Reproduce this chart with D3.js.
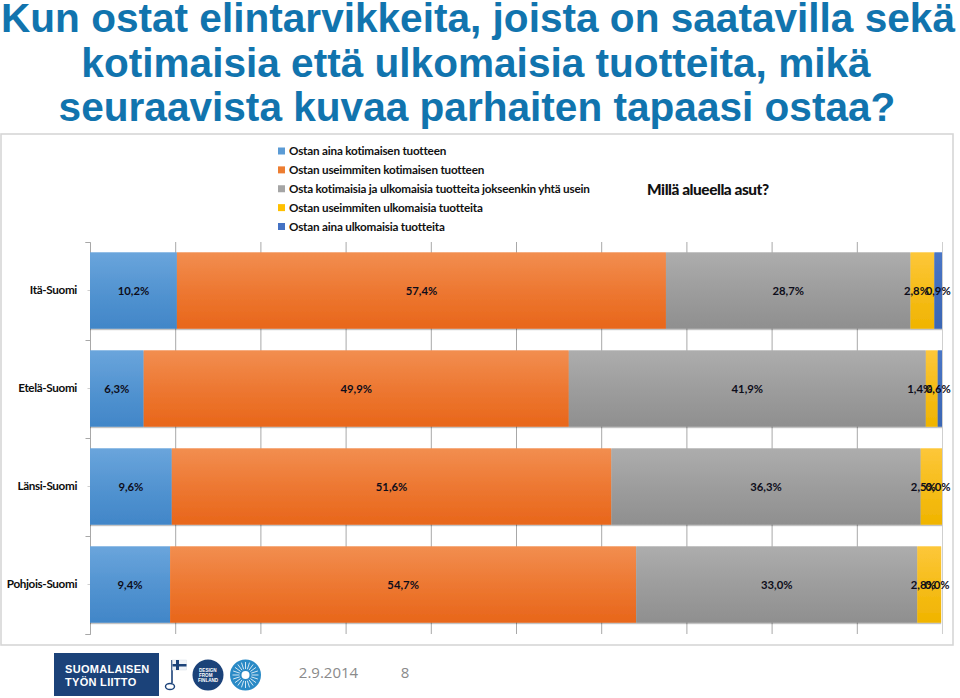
<!DOCTYPE html>
<html><head><meta charset="utf-8">
<script src="https://cdnjs.cloudflare.com/ajax/libs/d3/7.8.5/d3.min.js"></script>
<style>html,body{margin:0;padding:0;background:#fff}svg{display:block}</style></head>
<body><svg id="c" width="960" height="698"></svg>
<script>
const titleLines=["Kun ostat elintarvikkeita, joista on saatavilla sekä","kotimaisia että ulkomaisia tuotteita, mikä","seuraavista kuvaa parhaiten tapaasi ostaa?"];
const regions=["Itä-Suomi","Etelä-Suomi","Länsi-Suomi","Pohjois-Suomi"];
const seriesNames=["Ostan aina kotimaisen tuotteen","Ostan useimmiten kotimaisen tuotteen","Osta kotimaisia ja ulkomaisia tuotteita jokseenkin yhtä usein","Ostan useimmiten ulkomaisia tuotteita","Ostan aina ulkomaisia tuotteita"];
const aina_koti=[10.2,6.3,9.6,9.4];
const useim_koti=[57.4,49.9,51.6,54.7];
const molemmat=[28.7,41.9,36.3,33.0];
const useim_ulko=[2.8,1.4,2.5,2.8];
const aina_ulko=[0.9,0.6,0.0,0.0];
const seriesValues=[aina_koti,useim_koti,molemmat,useim_ulko,aina_ulko];
const colTop=["#6aa5dc","#f28e50","#adadad","#fdc73a","#4a76c6"];
const colBot=["#4186c8","#e8661a","#8f8f8f","#f0b400","#3a66b4"];
const legendCol=["#5b9bd5","#ed7d31","#a5a5a5","#ffc000","#4472c4"];
const xTicks=[0,10,20,30,40,50,60,70,80,90,100];
const footerDate="2.9.2014", footerPage="8", chartTitle="Millä alueella asut?";
const font="Lato, 'Open Sans', sans-serif";

const svg=d3.select("#c");
const defs=svg.append("defs");
colTop.forEach((c,i)=>{const g=defs.append("linearGradient").attr("id","g"+i).attr("x1",0).attr("x2",0).attr("y1",0).attr("y2",1);
 g.append("stop").attr("offset","0%").attr("stop-color",c);
 g.append("stop").attr("offset","50%").attr("stop-color",d3.interpolateRgb(c,colBot[i])(0.55));
 g.append("stop").attr("offset","100%").attr("stop-color",colBot[i]);});
const sh=defs.append("filter").attr("id","sh").attr("x","-2%").attr("y","-5%").attr("width","104%").attr("height","112%");
sh.append("feDropShadow").attr("dx",0).attr("dy",1.2).attr("stdDeviation",0.4).attr("flood-color","#000").attr("flood-opacity",0.3);

// slide title
svg.append("g").selectAll("text").data(titleLines).join("text")
 .attr("x",(d,i)=>[478,476,477][i]).attr("y",(d,i)=>[32,77,121][i])
 .attr("text-anchor","middle").attr("font-family","'Liberation Sans',Arial,sans-serif")
 .attr("font-weight","bold").attr("font-size",40.6).attr("fill","#1174ae").text(d=>d);

// chart frame
svg.append("rect").attr("x",1).attr("y",134).attr("width",952).attr("height",511).attr("fill","#fff").attr("stroke","#d6d6d6").attr("stroke-width",1.6);

const x=d3.scaleLinear().domain([0,100]).range([90,942]);
const y=d3.scaleBand().domain(regions).range([241.5,633.5]).paddingInner(0.22).paddingOuter(0.11);

// gridlines
svg.append("g").selectAll("line").data(xTicks.slice(1)).join("line")
 .attr("x1",d=>x(d)+.5).attr("x2",d=>x(d)+.5).attr("y1",242).attr("y2",634)
 .attr("stroke",d=>d==100?"#cfcfcf":"#a8a8a8").attr("stroke-width",1);

// category axis
const ax=svg.append("g").attr("transform","translate(90.5,0)").call(d3.axisLeft(y).tickSize(5).tickPadding(13.5));
ax.selectAll("path,line").attr("stroke","#a8a8a8");
ax.select("path").attr("d","M-5,242.5H0V634.5H-5");
ax.selectAll(".tick line").remove();
ax.append("g").selectAll("line").data(d3.range(5)).join("line").attr("x1",-5).attr("x2",0)
 .attr("y1",i=>242.5+i*392/4).attr("y2",i=>242.5+i*392/4).attr("stroke","#a8a8a8");
ax.selectAll(".tick").append("line").attr("x1",-3).attr("x2",0).attr("stroke","#cfcfcf");
ax.selectAll(".tick text").attr("x",-13.5).attr("font-family",font).attr("font-size",11.7).attr("font-weight",700).attr("fill","#0d0d0d").attr("letter-spacing",-0.35);

// stacked bars
const rows=regions.map((r,i)=>{const o={region:r};seriesNames.forEach((s,j)=>o[s]=seriesValues[j][i]);return o;});
const stacked=d3.stack().keys(seriesNames)(rows);
const sg=svg.append("g").selectAll("g").data(stacked).join("g").attr("fill",(d,i)=>`url(#g${i})`).attr("filter","url(#sh)");
sg.selectAll("rect").data(d=>d).join("rect")
 .attr("x",d=>x(d[0])).attr("width",d=>Math.max(0,Math.min(x(d[1]),x(100))-x(d[0])))
 .attr("y",d=>y(d.data.region)).attr("height",y.bandwidth());

// value labels (the small trailing labels sit slightly left of their segments)
const labelShiftPenult=[-6,-12,-8,-6], labelShiftLast=[0,-2,-4,-4];
const lg=svg.append("g");
stacked.forEach((s,si)=>{lg.selectAll(null).data(s).join("text")
 .attr("x",(d,i)=>x((d[0]+d[1])/2)+(si==3?labelShiftPenult[i]:si==4?labelShiftLast[i]:0))
 .attr("y",d=>y(d.data.region)+y.bandwidth()/2+4)
 .attr("text-anchor","middle").attr("font-family",font).attr("font-size",11.3).attr("font-weight",700).attr("fill","#0d0d1a")
 .text(d=>(d[1]-d[0]).toFixed(1).replace(".",",")+"%");});

// legend
const ly=d3.scalePoint().domain(seriesNames).range([151,226.5]);
const lgd=svg.append("g").selectAll("g").data(seriesNames).join("g").attr("transform",d=>`translate(278,${ly(d)})`);
lgd.append("rect").attr("x",0).attr("y",-3.5).attr("width",7).attr("height",7).attr("fill",(d,i)=>legendCol[i]);
lgd.append("text").attr("x",11).attr("y",4).attr("font-family",font).attr("font-size",11.7).attr("font-weight",700).attr("fill","#111").attr("letter-spacing",-0.2).text(d=>d);
svg.append("text").attr("x",647).attr("y",195).attr("font-family",font).attr("font-size",15.4).attr("font-weight",900).attr("fill","#111").attr("letter-spacing",-0.45).text(chartTitle);

// footer
svg.append("text").attr("x",328.5).attr("y",678).attr("text-anchor","middle").attr("font-family","'Open Sans',sans-serif").attr("font-size",15).attr("fill","#8a8a8a").text(footerDate);
svg.append("text").attr("x",405).attr("y",678).attr("text-anchor","middle").attr("font-family","'Open Sans',sans-serif").attr("font-size",15).attr("fill","#8a8a8a").text(footerPage);

// logos
const lo=svg.append("g");
lo.append("rect").attr("x",54).attr("y",653).attr("width",105).attr("height",43).attr("fill","#1b4279");
[["SUOMALAISEN",672.5],["TYÖN LIITTO",686]].forEach(([t,yy])=>lo.append("text").attr("x",65).attr("y",yy).attr("font-family","'Liberation Sans',sans-serif").attr("font-weight","bold").attr("font-size",11).attr("letter-spacing",0.3).attr("fill","#fff").text(t));
// flag pin
lo.append("line").attr("x1",172).attr("x2",172).attr("y1",660).attr("y2",683).attr("stroke","#1b4279").attr("stroke-width",1.6);
lo.append("rect").attr("x",172.5).attr("y",660).attr("width",14).attr("height",10).attr("fill","#eef2f8").attr("stroke","#d5dde8").attr("stroke-width",.5);
lo.append("rect").attr("x",176).attr("y",660).attr("width",3).attr("height",10).attr("fill","#1b4279");
lo.append("rect").attr("x",172.5).attr("y",664).attr("width",14).attr("height",2.5).attr("fill","#1b4279");
lo.append("ellipse").attr("cx",170).attr("cy",686.5).attr("rx",4.5).attr("ry",3).attr("fill","none").attr("stroke","#1b4279").attr("stroke-width",1.4);
// design from finland
lo.append("circle").attr("cx",208).attr("cy",675).attr("r",15.5).attr("fill","#1b4279");
["DESIGN","FROM","FINLAND"].forEach((t,i)=>lo.append("text").attr("x",i==2?198:199).attr("y",672+i*5).attr("font-family","'Liberation Sans',sans-serif").attr("font-weight","bold").attr("font-size",4.6).attr("fill","#fff").text(t));
// sun
lo.append("circle").attr("cx",245.5).attr("cy",675).attr("r",15.5).attr("fill","#2a8ac6");
lo.append("g").selectAll("line").data(d3.range(20)).join("line")
 .attr("x1",d=>245.5+6*Math.cos(d*Math.PI/10)).attr("y1",d=>675+6*Math.sin(d*Math.PI/10))
 .attr("x2",d=>245.5+13*Math.cos(d*Math.PI/10)).attr("y2",d=>675+13*Math.sin(d*Math.PI/10))
 .attr("stroke","#fff").attr("stroke-width",.8);
lo.append("circle").attr("cx",245.5).attr("cy",675).attr("r",4).attr("fill","#fff");
</script></body></html>
